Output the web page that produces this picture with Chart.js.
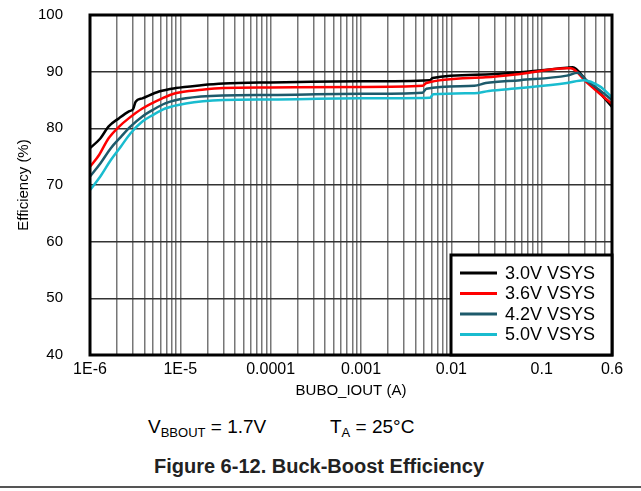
<!DOCTYPE html>
<html>
<head>
<meta charset="utf-8">
<script src="https://cdn.jsdelivr.net/npm/chart.js@4/dist/chart.umd.min.js"></script>
<style>
  html,body{margin:0;padding:0;background:#fff;}
  body{width:641px;height:491px;position:relative;overflow:hidden;font-family:"Liberation Sans",Arial,sans-serif;}
  #wrap{position:absolute;left:0;top:0;width:641px;height:400px;}
  .cond{position:absolute;top:416px;font-size:19px;color:#000;white-space:nowrap;}
  .cond sub{font-size:13px;vertical-align:-4px;}
  #caption{position:absolute;top:455px;left:0;width:638px;text-align:center;font-weight:bold;font-size:20px;color:#222;}
  #rule{position:absolute;left:0;top:486px;width:641px;height:2px;background:#555;}
</style>
</head>
<body>
<div id="wrap"><canvas id="eff" width="641" height="400"></canvas></div>
<div class="cond" style="left:148px">V<sub>BBOUT</sub> = 1.7V</div>
<div class="cond" style="left:330px">T<sub>A</sub> = 25°C</div>
<div id="caption">Figure 6-12. Buck-Boost Efficiency</div>
<div id="rule"></div>
<script>
// series labels / colours
const seriesNames = ['3.0V VSYS','3.6V VSYS','4.2V VSYS','5.0V VSYS'];
const seriesColors = ['#000000','#ff0000','#1d5a6b','#19bccf'];

// x tick labels (decades + end)
const tickValues = [1e-6,1e-5,1e-4,1e-3,0.01,0.1,0.6];
const tickLabels = ['1E-6','1E-5','0.0001','0.001','0.01','0.1','0.6'];

// BUBO_IOUT (A) / efficiency (%)
const x30 = [1e-6,1.3e-6,1.6e-6,2.1e-6,2.7e-6,3.0e-6,3.2e-6,3.8e-6,5.8e-6,8.8e-6,1.7e-5,3e-5,1e-4,1e-3,5.8e-3,6.2e-3,0.024,0.058,0.19,0.22,0.31,0.44,0.6];
const y30 = [76.5,78.2,80.3,81.8,83.0,83.4,84.7,85.3,86.5,87.1,87.6,87.9,88.1,88.3,88.5,88.9,89.5,89.9,90.7,90.8,88.5,86.2,83.8];

const x36 = [1e-6,1.26e-6,1.6e-6,2.1e-6,2.7e-6,3.8e-6,6.3e-6,8.8e-6,1.74e-5,3e-5,1e-4,1e-3,4.8e-3,5.3e-3,0.024,0.058,0.19,0.21,0.31,0.44,0.6];
const y36 = [73.2,75.3,78.2,80.3,81.8,83.5,85.3,86.2,86.8,87.1,87.2,87.3,87.5,88.0,89.0,89.6,90.6,90.6,88.2,86.1,84.3];

const x42 = [1e-6,1.3e-6,1.7e-6,2.2e-6,2.8e-6,3.8e-6,4.9e-6,6.8e-6,1.15e-5,3e-5,1e-4,1e-3,4.8e-3,5.3e-3,0.018,0.024,0.058,0.19,0.25,0.31,0.44,0.6];
const y42 = [71.5,73.8,76.5,78.5,80.3,82.1,83.2,84.4,85.3,85.8,85.9,86.1,86.3,87.0,87.5,88.0,88.5,89.3,89.8,88.5,86.7,85.0];

const x50 = [1e-6,1.3e-6,1.7e-6,2.2e-6,2.8e-6,3.8e-6,4.9e-6,6.8e-6,1.15e-5,3e-5,1e-4,1e-3,5.8e-3,6.3e-3,0.018,0.026,0.058,0.19,0.29,0.44,0.6];
const y50 = [69.1,71.5,74.4,76.8,79.1,81.2,82.3,83.5,84.4,85.0,85.1,85.3,85.4,86.0,86.2,86.6,87.1,88.0,88.5,87.4,85.5];

const xs = [x30,x36,x42,x50];
const ys = [y30,y36,y42,y50];

// vertical grid: 1..9 per decade up to 0.6
const gridVals = [];
for(let e=-6;e<=-1;e++){
  for(let m=1;m<=9;m++){
    const v = Number((m*Math.pow(10,e)).toPrecision(3));
    if(v<=0.6) gridVals.push(v);
  }
}

const datasets = seriesNames.map((name,i)=>({
  label:name,
  data: xs[i].map((x,j)=>({x:x,y:ys[i][j]})),
  borderColor: seriesColors[i],
  backgroundColor: seriesColors[i],
  borderWidth: 2.5,
  pointRadius: 0,
  cubicInterpolationMode: 'monotone',
  order: 4-i
}));

const frameAndLegend = {
  id:'frameAndLegend',
  afterDraw(chart){
    const {ctx, chartArea:a} = chart;
    ctx.save();
    ctx.strokeStyle = '#000';
    ctx.lineWidth = 3;
    ctx.strokeRect(a.left, a.top, a.right-a.left, a.bottom-a.top);
    // legend box in lower right corner
    const bx = 451, by = 255, bw = a.right-bx, bh = a.bottom-by;
    ctx.fillStyle = '#fff';
    ctx.fillRect(bx, by, bw, bh);
    ctx.strokeRect(bx, by, bw, bh);
    ctx.font = '18px "Liberation Sans", Arial, sans-serif';
    ctx.textBaseline = 'middle';
    chart.data.datasets.forEach((ds,i)=>{
      const yy = 273 + i*20.5;
      ctx.strokeStyle = ds.borderColor;
      ctx.lineWidth = 3;
      ctx.beginPath(); ctx.moveTo(460,yy); ctx.lineTo(497,yy); ctx.stroke();
      ctx.fillStyle = '#000';
      ctx.fillText(ds.label, 505, yy+1);
    });
    ctx.restore();
  }
};

const font = (size)=>({family:'"Liberation Sans", Arial, sans-serif',size:size});

new Chart(document.getElementById('eff'),{
  type:'line',
  data:{datasets:datasets},
  options:{
    responsive:false,
    animation:false,
    devicePixelRatio:1,
    layout:{padding:{left:0,top:15,right:29,bottom:0}},
    plugins:{legend:{display:false},tooltip:{enabled:false}},
    scales:{
      x:{
        type:'logarithmic',
        min:1e-6, max:0.6,
        afterFit:(s)=>{ s.height = 45; s.paddingLeft = 0; s.paddingRight = 0; },
        afterBuildTicks:(s)=>{ s.ticks = gridVals.map(v=>({value:v})); },
        grid:{color:'#777',lineWidth:1.5,drawTicks:false},
        border:{display:false},
        ticks:{
          autoSkip:false, maxRotation:0, padding:5, color:'#000', font:font(16),
          callback:(v)=>{
            const k = tickValues.findIndex(t=>Math.abs(t-v)/t<1e-6);
            return k>=0 ? tickLabels[k] : '';
          }
        },
        title:{display:true,text:'BUBO_IOUT (A)',color:'#000',padding:{top:0,bottom:0},font:font(15)}
      },
      y:{
        min:40, max:100,
        afterFit:(s)=>{ s.width = 90; s.paddingTop = 0; s.paddingBottom = 0; },
        grid:{color:'#333',lineWidth:1.5,drawTicks:false},
        border:{display:false},
        ticks:{stepSize:10,padding:27,color:'#000',font:font(15)},
        title:{display:true,text:'Efficiency (%)',color:'#000',padding:{top:15,bottom:0},font:font(15)}
      }
    }
  },
  plugins:[frameAndLegend]
});
</script>
</body>
</html>
